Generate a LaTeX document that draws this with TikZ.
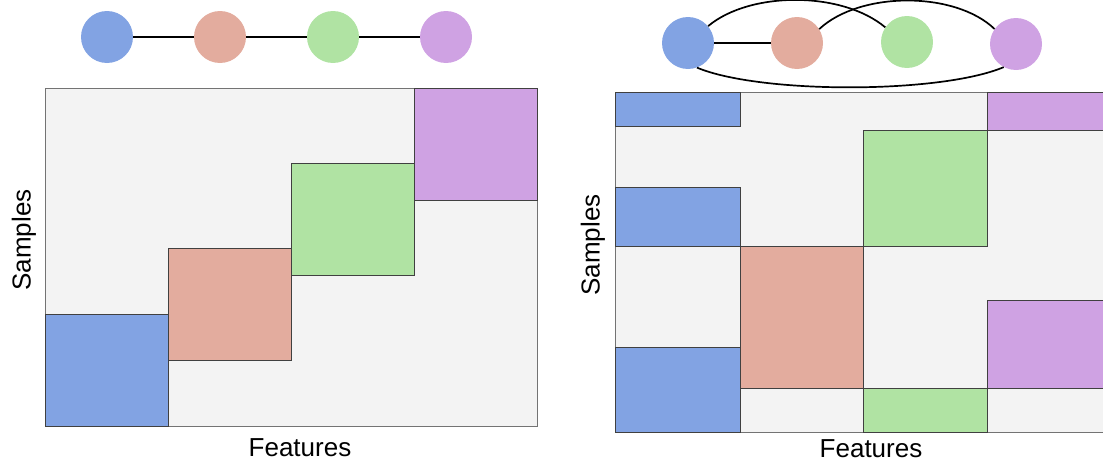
\documentclass[tikz,border=0pt]{standalone}
\usepackage{fontspec}
\setmainfont{Liberation Sans}
\definecolor{cblue}{HTML}{82A3E3}
\definecolor{csalmon}{HTML}{E3AC9E}
\definecolor{cgreen}{HTML}{B0E3A3}
\definecolor{cpurple}{HTML}{CFA2E3}
\definecolor{cback}{HTML}{F3F3F3}
\tikzset{
  vtx/.style={circle, minimum size=52pt, inner sep=0pt, draw=none},
  edge/.style={line width=1.7pt, black},
  panel/.style={fill=cback, draw=black!55, line width=0.8pt},
  blk/.style={draw=black!75, line width=0.7pt},
  lbl/.style={font=\fontsize{26}{30}\selectfont}
}
\begin{document}
\begin{tikzpicture}[x=1pt,y=-1pt]
\useasboundingbox (0,0) rectangle (1103,463);

% ---------- block-diagonal layout ----------
\draw[panel] (45,88) rectangle (537,426);
\draw[blk, fill=cblue]    (45,314)  rectangle (168,426);
\draw[blk, fill=csalmon]  (168,248) rectangle (291,360);
\draw[blk, fill=cgreen]   (291,163) rectangle (414,275);
\draw[blk, fill=cpurple]  (414,88)  rectangle (537,200);

\node[vtx, fill=cblue]    (a1) at (107,37) {};
\node[vtx, fill=csalmon]  (b1) at (220,37) {};
\node[vtx, fill=cgreen]   (c1) at (333,37) {};
\node[vtx, fill=cpurple]  (d1) at (446,37) {};
\draw[edge] (a1) -- (b1);
\draw[edge] (b1) -- (c1);
\draw[edge] (c1) -- (d1);

\node[lbl, rotate=90] (s1) at (24,240) {Samples};
\node[lbl] (f1) at (300,448) {Features};

% ---------- scattered layout ----------
\draw[panel] (615,92) rectangle (1112,432);
\draw[blk, fill=cblue]    (615,92)  rectangle (740,126);
\draw[blk, fill=cblue]    (615,187) rectangle (740,246);
\draw[blk, fill=cblue]    (615,347) rectangle (740,432);
\draw[blk, fill=csalmon]  (740,246) rectangle (863,388);
\draw[blk, fill=cgreen]   (863,130) rectangle (987,246);
\draw[blk, fill=cgreen]   (863,388) rectangle (987,432);
\draw[blk, fill=cpurple]  (987,92)  rectangle (1112,130);
\draw[blk, fill=cpurple]  (987,300) rectangle (1112,388);
\draw[blk] (863,388) -- (1112,388);

\node[vtx, fill=cblue]    (a2) at (688,43) {};
\node[vtx, fill=csalmon]  (b2) at (797,43) {};
\node[vtx, fill=cgreen]   (c2) at (907,42) {};
\node[vtx, fill=cpurple]  (d2) at (1016,44) {};
\draw[edge] (a2) -- (b2);
\draw[edge] (a2.40) .. controls (750,-9) and (842,-9) .. (c2.146);
\draw[edge] (b2.32) .. controls (860,-9) and (955,-9) .. (d2.145);
\draw[edge] (a2.-70) .. controls (760,94) and (940,94) .. (d2.-118);

\node[lbl, rotate=90] (s2) at (593,245) {Samples};
\node[lbl] (f2) at (871,449) {Features};
\end{tikzpicture}
\end{document}
